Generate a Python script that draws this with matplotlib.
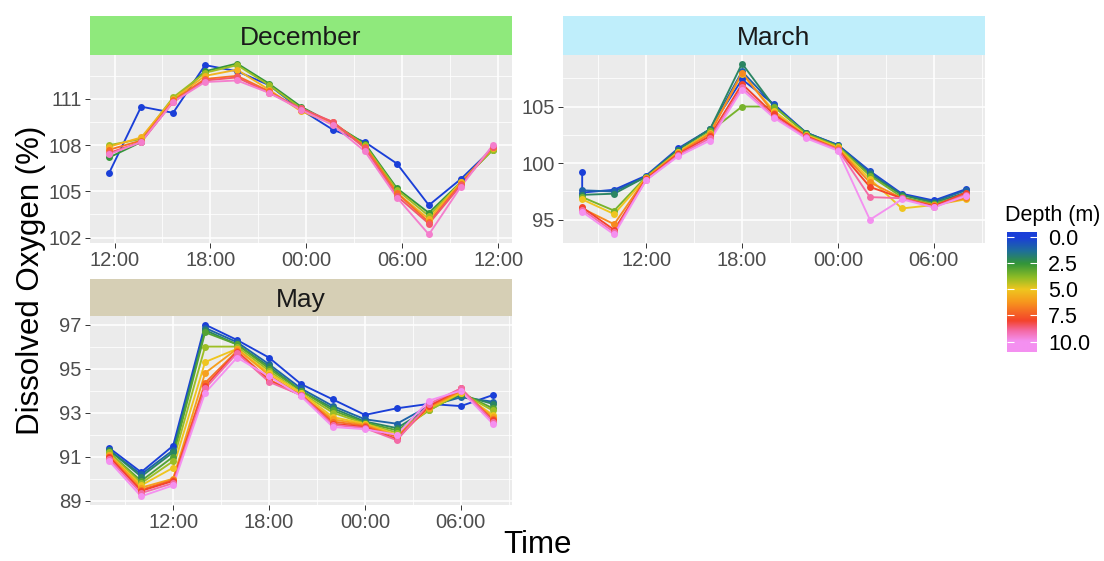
import numpy as np
import matplotlib
matplotlib.use("Agg")
import matplotlib.pyplot as plt
from matplotlib.colors import LinearSegmentedColormap, Normalize
from matplotlib.ticker import MultipleLocator, FuncFormatter

plt.rcParams['font.family'] = ['Liberation Sans', 'DejaVu Sans']

# ---- data (dissolved oxygen, %) ----
dec_times = ["11:40", "13:40", "15:40", "17:40", "19:40", "21:40", "23:40",
             "01:40", "03:40", "05:40", "07:40", "09:40", "11:40"]
dec_depths = [0, 2.5, 4, 5.5, 7, 8.5, 9.5]
dec_do = [
    [106.2, 110.5, 110.1, 113.2, 112.8, 111.9, 110.3, 109.0, 108.2, 106.8, 104.1, 105.8, 107.8],
    [107.2, 108.2, 110.9, 112.8, 113.3, 112.0, 110.5, 109.4, 108.1, 105.2, 103.6, 105.6, 107.7],
    [108.0, 108.4, 111.1, 112.7, 113.2, 111.9, 110.4, 109.4, 108.0, 105.1, 103.4, 105.6, 107.7],
    [107.9, 108.5, 111.0, 112.5, 112.9, 111.6, 110.2, 109.4, 107.9, 104.9, 103.2, 105.6, 107.8],
    [107.7, 108.3, 110.9, 112.3, 112.5, 111.5, 110.3, 109.5, 107.9, 104.9, 103.0, 105.5, 107.9],
    [107.5, 108.2, 110.8, 112.2, 112.4, 111.4, 110.4, 109.5, 107.8, 104.7, 102.9, 105.4, 107.9],
    [107.4, 108.2, 110.8, 112.1, 112.2, 111.4, 110.3, 109.3, 107.6, 104.6, 102.2, 105.3, 108.0],
]

mar_times = ["08:00", "10:00", "12:00", "14:00", "16:00", "18:00", "20:00",
             "22:00", "00:00", "02:00", "04:00", "06:00", "08:00"]
mar_depths = [0, 1, 2, 3.5, 5, 6.5, 8, 9, 10]
mar_do = [
    [97.4, 97.65, 98.9, 101.3, 103.0, 107.4, 105.2, 102.7, 101.6, 99.3, 97.3, 96.7, 97.7],
    [97.6, 97.5, 98.8, 101.2, 103.0, 108.1, 105.1, 102.7, 101.6, 99.2, 97.2, 96.6, 97.6],
    [97.2, 97.3, 98.8, 101.2, 103.0, 108.8, 105.0, 102.7, 101.5, 99.0, 97.2, 96.5, 97.4],
    [97.0, 95.8, 98.8, 101.0, 102.8, 105.0, 105.0, 102.6, 101.5, 98.9, 97.0, 96.4, 97.2],
    [96.8, 95.5, 98.7, 101.0, 102.7, 107.9, 104.6, 102.5, 101.4, 98.6, 96.0, 96.3, 96.8],
    [96.0, 94.6, 98.7, 100.9, 102.6, 108.0, 104.4, 102.4, 101.3, 98.3, 96.9, 96.3, 96.9],
    [96.1, 94.1, 98.6, 100.8, 102.4, 107.0, 104.3, 102.4, 101.2, 97.9, 96.9, 96.2, 97.4],
    [95.9, 93.9, 98.5, 100.7, 102.2, 106.7, 104.1, 102.3, 101.2, 97.0, 96.9, 96.1, 97.2],
    [95.7, 93.7, 98.5, 100.6, 102.0, 106.5, 104.0, 102.2, 101.1, 95.0, 96.8, 96.1, 97.1],
]
# surface sensor logged a second reading at the first time stamp
mar_surface_extra = 99.2

may_times = ["08:00", "10:00", "12:00", "14:00", "16:00", "18:00", "20:00",
             "22:00", "00:00", "02:00", "04:00", "06:00", "08:00"]
may_depths = [0, 1, 2, 3, 4, 5, 6, 7, 8, 9, 10]
may_do = [
    [91.4, 90.3, 91.5, 97.0, 96.3, 95.5, 94.3, 93.6, 92.9, 93.2, 93.4, 93.3, 93.8],
    [91.3, 90.2, 91.3, 96.85, 96.2, 95.2, 94.1, 93.3, 92.7, 92.5, 93.3, 93.7, 93.5],
    [91.3, 90.1, 91.2, 96.75, 96.1, 95.1, 94.0, 93.2, 92.6, 92.3, 93.2, 93.8, 93.4],
    [91.2, 89.9, 91.0, 96.65, 96.1, 95.0, 94.0, 93.1, 92.55, 92.2, 93.1, 93.9, 93.2],
    [91.2, 89.8, 90.8, 96.0, 96.0, 94.9, 93.9, 93.0, 92.5, 92.1, 93.1, 93.9, 93.1],
    [91.1, 89.7, 90.5, 95.3, 95.9, 94.8, 93.9, 92.8, 92.5, 92.0, 93.2, 93.9, 92.9],
    [91.1, 89.6, 90.0, 94.8, 95.9, 94.7, 93.8, 92.7, 92.45, 91.95, 93.2, 94.0, 92.8],
    [91.0, 89.5, 89.95, 94.35, 95.8, 94.5, 93.8, 92.6, 92.4, 91.9, 93.3, 94.0, 92.7],
    [91.0, 89.45, 89.9, 94.2, 95.75, 94.45, 93.8, 92.5, 92.35, 91.8, 93.3, 94.1, 92.65],
    [90.9, 89.35, 89.8, 94.1, 95.7, 94.4, 93.8, 92.45, 92.3, 91.75, 93.4, 94.1, 92.6],
    [90.8, 89.2, 89.7, 93.9, 95.5, 94.65, 93.75, 92.35, 92.25, 92.0, 93.55, 94.0, 92.5],
]

cb_ticks = [0, 2.5, 5, 7.5, 10]

# depth colour scale
cmap = LinearSegmentedColormap.from_list(
    "depth", [(0.0, "#1a3fd8"), (0.13, "#1f6f9a"), (0.25, "#33953a"),
              (0.38, "#8cbc26"), (0.5, "#efc61f"), (0.62, "#f7981d"),
              (0.8, "#f4432b"), (0.9, "#f36aa6"), (1.0, "#f490f0")])
norm = Normalize(0, 10)

GRID_BG = "#EBEBEB"
TICK_COL = "#4D4D4D"


def to_hours(times):
    out = []
    day = 0
    prev = -1
    for t in times:
        h, m = t.split(":")
        v = int(h) + int(m) / 60
        if v < prev:
            day += 24
        prev = v
        out.append(v + day)
    return np.array(out)


def fmt_hour(x, pos):
    return "%02d:00" % (int(round(x)) % 24)


def panel(rect, times, depths, series, title, strip_col, ystep, yoff=0,
          extra=None, strip_h=39):
    l, b, w, h = rect
    ax = fig.add_axes(rect)
    ax.set_facecolor(GRID_BG)
    hrs = to_hours(times)
    for d, vals in zip(depths, series):
        c = cmap(norm(d))
        x, y = hrs, np.array(vals)
        if extra is not None and d == 0:
            x = np.concatenate([[hrs[0]], hrs])
            y = np.concatenate([[extra], y])
        ax.plot(x, y, color=c, lw=1.35, zorder=2)
        ax.plot(x, y, 'o', color=c, ms=5.0, mec='none', zorder=3)
    ax.margins(x=0.05, y=0.05)
    ax.xaxis.set_major_locator(MultipleLocator(6))
    ax.xaxis.set_minor_locator(MultipleLocator(3))
    ax.xaxis.set_major_formatter(FuncFormatter(fmt_hour))
    ax.yaxis.set_major_locator(MultipleLocator(ystep, offset=yoff))
    ax.yaxis.set_minor_locator(MultipleLocator(ystep / 2, offset=yoff))
    ax.grid(which='major', color='white', lw=1.1, zorder=0)
    ax.grid(which='minor', color='white', lw=0.55, zorder=0)
    ax.set_axisbelow(True)
    for s in ax.spines.values():
        s.set_visible(False)
    ax.tick_params(which='major', length=3.5, width=0.7, color='#333333',
                   labelsize=14.5, labelcolor=TICK_COL, pad=2.5)
    ax.tick_params(which='minor', length=0)

    sax = fig.add_axes([l, b + h, w, strip_h / 561])
    sax.set_facecolor(strip_col)
    sax.set_xticks([])
    sax.set_yticks([])
    for s in sax.spines.values():
        s.set_visible(False)
    sax.text(0.5, 0.44, title, ha='center', va='center', fontsize=19,
             color='#1A1A1A', transform=sax.transAxes)
    return ax


fig = plt.figure(figsize=(11.04, 5.61), dpi=100)

W = 422 / 1104
H = 188 / 561
panel([90 / 1104, 1 - 243 / 561, W, H], dec_times, dec_depths, dec_do,
      "December", "#8FE97C", 3)
panel([563 / 1104, 1 - 243 / 561, W, H], mar_times, mar_depths, mar_do,
      "March", "#BFEEFB", 5, extra=mar_surface_extra)
panel([90 / 1104, 1 - 505 / 561, W, 189 / 561], may_times, may_depths, may_do,
      "May", "#D6CFB5", 2, yoff=1, strip_h=37)

fig.text(31 / 1104, 1 - 280 / 561, "Dissolved Oxygen (%)", rotation=90,
         ha='center', va='center', fontsize=22.5)
fig.text(538 / 1104, 1 - 545 / 561, "Time", ha='center', va='center', fontsize=22.5)

# colour bar legend
cax = fig.add_axes([1007 / 1104, 1 - 352 / 561, 30 / 1104, 120 / 561])
lo, hi = -0.5, 11.0
grad = np.linspace(lo, hi, 300).reshape(-1, 1)
cax.imshow(grad, aspect='auto', cmap=cmap, norm=norm,
           extent=[0, 1, hi, lo], interpolation='bilinear')
cax.set_ylim(hi, lo)
cax.set_xticks([])
cax.set_yticks(cb_ticks)
cax.set_yticklabels(["%.1f" % t for t in cb_ticks])
cax.tick_params(axis='y', left=True, right=True, labelleft=False, labelright=True,
                direction='in', length=5, width=0.8, color='white',
                labelsize=15.5, labelcolor='black', pad=8)
for s in cax.spines.values():
    s.set_visible(False)
fig.text(1005 / 1104, 1 - 215 / 561, "Depth (m)", ha='left', va='center', fontsize=15.5)

fig.savefig("out.png", dpi=100)
